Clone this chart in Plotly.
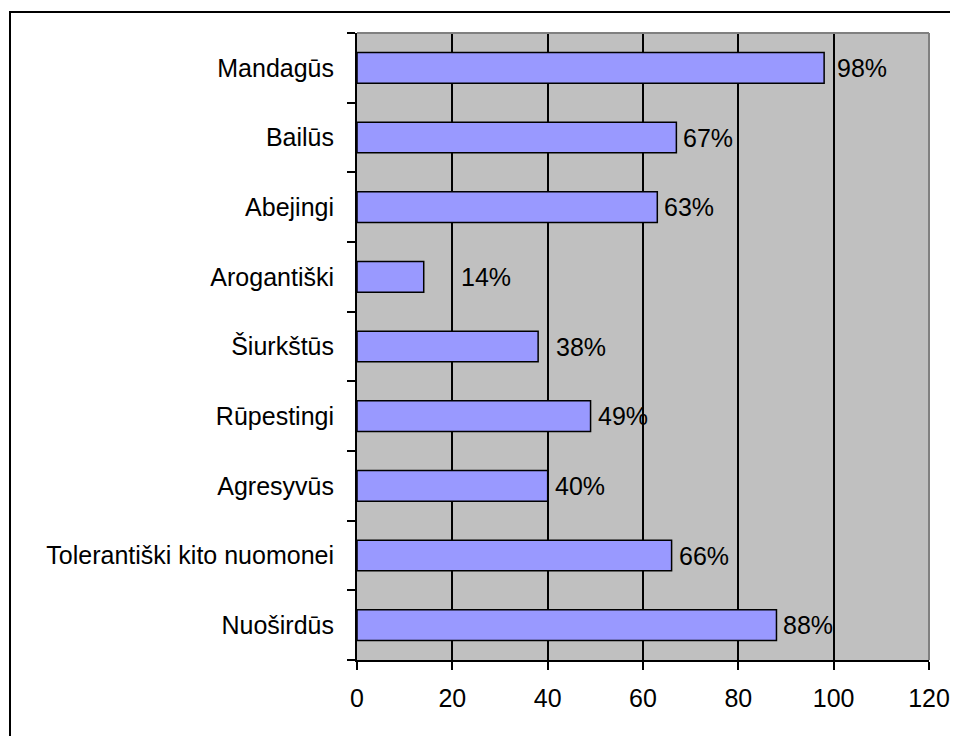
import plotly.graph_objects as go

# categories listed bottom to top (plotly draws the first category at the bottom)
categories = [
    "Nuoširdūs",
    "Tolerantiški kito nuomonei",
    "Agresyvūs",
    "Rūpestingi",
    "Šiurkštūs",
    "Arogantiški",
    "Abejingi",
    "Bailūs",
    "Mandagūs",
]
values = [88, 66, 40, 49, 38, 14, 63, 67, 98]
value_labels = ["88%", "66%", "40%", "49%", "38%", "14%", "63%", "67%", "98%"]
x_ticks = [0, 20, 40, 60, 80, 100, 120]

# extra horizontal nudge of some value labels, as in the original
LABEL_NUDGE = [0, 0, 0, 0, 11, 30, 0, 0, 6]

FONT = "Arial, Liberation Sans, sans-serif"
FS = 25
# page body has an 8px margin, so the figure starts at (8, 8)
OFF = 8
W, H = 958 - OFF, 736 - OFF
L, R, T, B = 357 - OFF, 29, 33 - OFF, 76
PW, PH = W - L - R, H - T - B


def px_to_paper_x(px):
    return (px - OFF - L) / PW


def px_to_paper_y(py):
    return (H - B - (py - OFF)) / PH


fig = go.Figure()
fig.add_trace(
    go.Bar(
        x=values,
        y=categories,
        orientation="h",
        marker=dict(color="#9999FF", line=dict(color="black", width=1.5)),
        hoverinfo="x+y",
    )
)

for cat, val, lab, nudge in zip(categories, values, value_labels, LABEL_NUDGE):
    fig.add_annotation(
        x=val,
        y=cat,
        text=lab,
        showarrow=False,
        xanchor="left",
        yanchor="middle",
        xshift=5 + nudge,
        font=dict(family=FONT, size=FS, color="black"),
    )

# grey top/right edge of the plot area
fig.add_shape(type="line", xref="paper", yref="paper", x0=0, x1=1, y0=1, y1=1,
              line=dict(color="#808080", width=2))
fig.add_shape(type="line", xref="paper", yref="paper", x0=1, x1=1, y0=0, y1=1,
              line=dict(color="#808080", width=2))
# outer chart border
fig.add_shape(
    type="rect", xref="paper", yref="paper",
    x0=px_to_paper_x(10), x1=px_to_paper_x(962),
    y0=px_to_paper_y(742), y1=px_to_paper_y(12),
    line=dict(color="black", width=2), fillcolor="rgba(0,0,0,0)",
)

fig.update_layout(
    width=W,
    height=H,
    margin=dict(l=L, r=R, t=T, b=B, autoexpand=False),
    paper_bgcolor="white",
    plot_bgcolor="#C0C0C0",
    bargap=0.56,
    showlegend=False,
    font=dict(family=FONT, size=FS, color="black"),
    xaxis=dict(
        range=[0, 120],
        tickvals=x_ticks,
        showgrid=True,
        gridcolor="black",
        gridwidth=1.5,
        zeroline=False,
        showline=True,
        linecolor="black",
        linewidth=2,
        ticks="outside",
        ticklen=8,
        tickwidth=2,
        tickcolor="black",
        ticklabelstandoff=7,
        tickfont=dict(family=FONT, size=FS),
        fixedrange=True,
    ),
    yaxis=dict(
        categoryorder="array",
        categoryarray=categories,
        tickson="boundaries",
        showgrid=False,
        showline=True,
        linecolor="black",
        linewidth=2,
        ticks="outside",
        ticklen=8,
        tickwidth=2,
        tickcolor="black",
        ticklabelstandoff=16,
        tickfont=dict(family=FONT, size=FS),
        fixedrange=True,
    ),
)

fig.write_html("out.html")
